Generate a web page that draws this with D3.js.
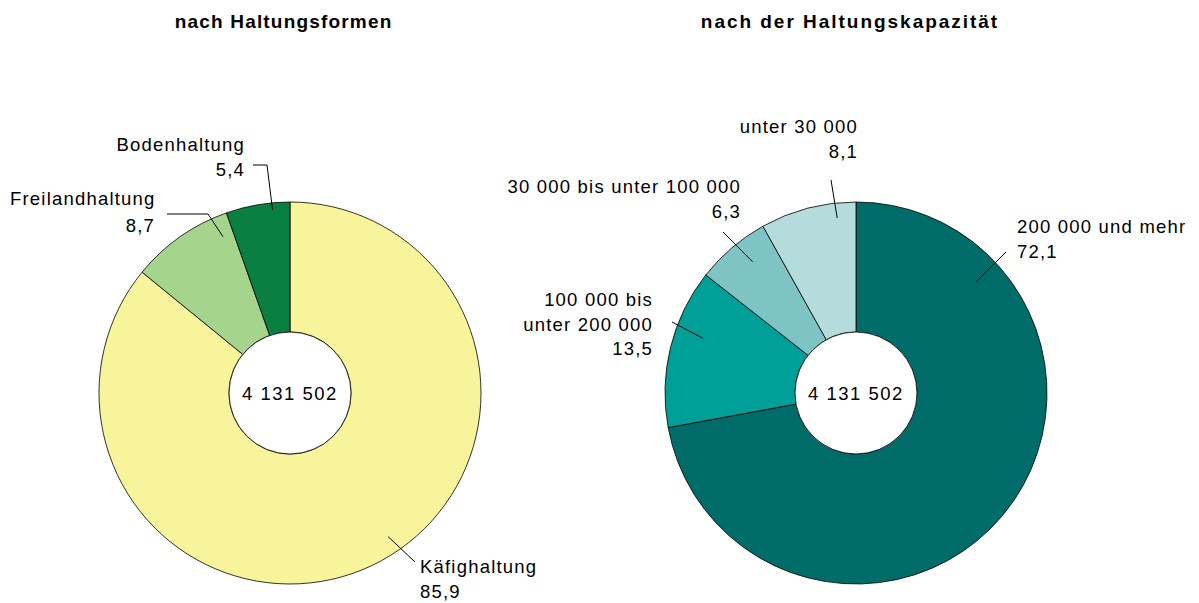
<!DOCTYPE html>
<html>
<head>
<meta charset="utf-8">
<script src="https://cdn.jsdelivr.net/npm/d3@7"></script>
<style>
  body { margin: 0; background: #fff; }
  svg text { font-family: "Liberation Sans", Arial, sans-serif; fill: #000; }
  .title { font-weight: bold; font-size: 19px; }
  .lbl { font-size: 18.5px; letter-spacing: 1.2px; }
  .total { font-size: 18.5px; letter-spacing: 1.5px; }
</style>
</head>
<body>
<div id="chart"></div>
<script>
// data
var total = "4 131 502";

var formNames = ["Käfighaltung", "Freilandhaltung", "Bodenhaltung"];
var formValues = [85.9, 8.7, 5.4];
var formColors = ["#f8f49b", "#a5d48c", "#0a8040"];

var capNames = ["200 000 und mehr", "100 000 bis|unter 200 000", "30 000 bis unter 100 000", "unter 30 000"];
var capValues = [72.1, 13.5, 6.3, 8.1];
var capColors = ["#006c6a", "#009f98", "#7ec4c4", "#b5dcdc"];

var titles = ["nach Haltungsformen", "nach der Haltungskapazität"];

var width = 1199, height = 603;
var outerR = 191, innerR = 61;

var svg = d3.select("#chart").append("svg")
    .attr("width", width)
    .attr("height", height);

// label placement: angle offset inside slice (0..1), radius of leader start,
// text anchor point and leader shape
var formLayout = [
    {t: 0.471, r: 174, tx: 420, ty: 573, anchor: "start", end: [415, 562]},
    {t: 0.88, r: 170, tx: 155, ty: 205, anchor: "end", end: [208, 214], tail: [167, 214], first: 10},
    {t: 0.72, r: 184, tx: 245, ty: 151, anchor: "end", end: [267, 165], tail: [253, 165]}
];
var capLayout = [
    {t: 0.182, r: 163, tx: 1017, ty: 233, anchor: "start", end: [1006, 252]},
    {t: 0.62, r: 163, tx: 653, ty: 306, anchor: "end", end: [672, 322]},
    {t: 0.60, r: 167, tx: 741, ty: 193, anchor: "end", end: [723, 232]},
    {t: 0.79, r: 176, tx: 858, ty: 133, anchor: "end", end: [831, 180]}
];

function drawDonut(cx, title, names, values, colors, layout){
    var cy = 393;
    var g = svg.append("g").attr("transform", "translate(" + cx + "," + cy + ")");

    svg.append("text")
        .attr("class", "title")
        .attr("x", cx - 7)
        .attr("y", 28)
        .attr("text-anchor", "middle")
        .attr("textLength", title.length * 11.4)
        .attr("lengthAdjust", "spacing")
        .text(title);

    var pie = d3.pie().sort(null).value(function(d){ return d; });
    var arcs = pie(values);
    var arc = d3.arc().innerRadius(innerR).outerRadius(outerR);

    g.selectAll("path.slice").data(arcs).enter().append("path")
        .attr("class", "slice")
        .attr("d", arc)
        .attr("fill", function(d, i){ return colors[i]; })
        .attr("stroke", "#000")
        .attr("stroke-width", 0.8);

    g.append("circle")
        .attr("r", innerR)
        .attr("fill", "#fff")
        .attr("stroke", "#000")
        .attr("stroke-width", 0.8);

    g.append("text")
        .attr("class", "total")
        .attr("y", 7)
        .attr("text-anchor", "middle")
        .text(total);

    arcs.forEach(function(a, i){
        var L = layout[i];
        var ang = a.startAngle + (a.endAngle - a.startAngle) * L.t;
        var px = cx + L.r * Math.sin(ang);
        var py = cy - L.r * Math.cos(ang);
        var pts = [[px, py], L.end];
        if (L.tail) pts.push(L.tail);
        svg.append("path")
            .attr("d", d3.line()(pts))
            .attr("fill", "none")
            .attr("stroke", "#000")
            .attr("stroke-width", 1);

        var lines = names[i].split("|");
        lines.push(String(values[i]).replace(".", ","));
        var txt = svg.append("text")
            .attr("class", "lbl")
            .attr("text-anchor", L.anchor);
        lines.forEach(function(s, k){
            var x = L.tx;
            // the long first line of Freilandhaltung starts left
            if (k === 0 && L.first !== undefined) {
                txt.append("tspan").attr("x", L.first).attr("y", L.ty)
                    .attr("text-anchor", "start").text(s);
                return;
            }
            txt.append("tspan")
                .attr("x", x)
                .attr("y", L.ty + k * (L.first !== undefined ? 27 : 24.5))
                .text(s);
        });
    });
}

drawDonut(290, titles[0], formNames, formValues, formColors, formLayout);
drawDonut(856, titles[1], capNames, capValues, capColors, capLayout);
</script>
</body>
</html>
